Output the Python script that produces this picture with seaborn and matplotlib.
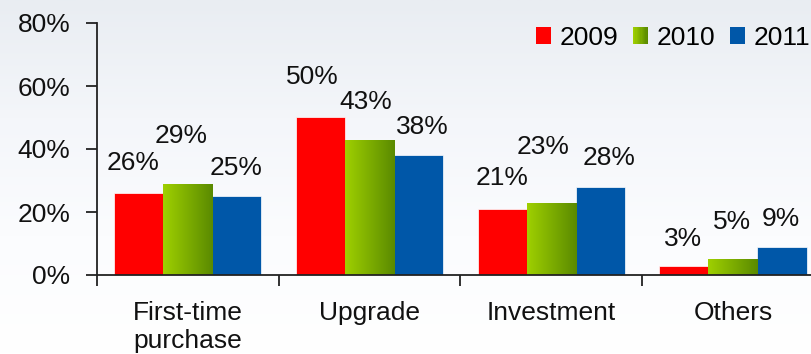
import numpy as np
import pandas as pd
import matplotlib
matplotlib.use("Agg")
import matplotlib.pyplot as plt
import seaborn as sns
from matplotlib.patches import Rectangle
from matplotlib.legend_handler import HandlerBase
from matplotlib.colors import LinearSegmentedColormap

# ---- data ----
categories = ["First-time\npurchase", "Upgrade", "Investment", "Others"]
years = ["2009", "2010", "2011"]
values_2009 = [26, 50, 21, 3]
values_2010 = [29, 43, 23, 5]
values_2011 = [25, 38, 28, 9]
y_ticks = [0, 20, 40, 60, 80]

# ---- styles ----
colors = {"2009": "#ff0000", "2010": "#80b000", "2011": "#0057a8"}
green_left, green_right = "#9fd000", "#5a8a00"
FS = 19
# label offsets (pixels) relative to bar top centre: (dx, dy) per year, per category
label_dx = {"2009": [-6, -8, 0, -1], "2010": [-7, -4, -8, -1], "2011": [-1, 4, 9, -1]}
label_dy = {"2009": [30, 40, 31, 27], "2010": [48, 38, 56, 37], "2011": [28, 28, 29, 28]}

plt.rcParams["font.family"] = ["Liberation Sans", "DejaVu Sans"]

rows = []
for y, vals in zip(years, [values_2009, values_2010, values_2011]):
    for c, v in zip(categories, vals):
        rows.append({"category": c, "year": y, "value": v})
df = pd.DataFrame(rows)

W, H = 812, 354
fig = plt.figure(figsize=(W / 100, H / 100), dpi=100)

# background gradient
bg = fig.add_axes([0, 0, 1, 1], zorder=-10)
grad = np.linspace(0, 1, 256).reshape(-1, 1)
bg_cmap = LinearSegmentedColormap.from_list("bg", ["#e9edf2", "#f4f6fa", "#fbfcfe", "#ffffff"])
bg.imshow(grad, aspect="auto", cmap=bg_cmap, extent=[0, 1, 0, 1], origin="upper")
bg.set_axis_off()

ax_left, ax_bottom, ax_top = 97, 79, 331
ax = fig.add_axes([ax_left / W, ax_bottom / H, (W - ax_left) / W, (ax_top - ax_bottom) / H])
ax.patch.set_alpha(0)

sns.barplot(data=df, x="category", y="value", hue="year", order=categories,
            hue_order=years, palette=colors, saturation=1, width=0.81, ax=ax,
            edgecolor="white", linewidth=0.5, legend=False)

cat_px = 181.7

# gradient fill for 2010 bars
gcmap = LinearSegmentedColormap.from_list("g", [green_left, green_right])
hgrad = np.linspace(0, 1, 256).reshape(1, -1)
for container, y in zip(ax.containers, years):
    for i, bar in enumerate(container):
        x0 = bar.get_x(); w = bar.get_width(); h = bar.get_height()
        if y == "2010":
            im = ax.imshow(hgrad, cmap=gcmap, aspect="auto",
                           extent=[x0, x0 + w, 0, h], zorder=bar.get_zorder() + 0.1)
            im.set_clip_path(bar)
        ax.annotate(f"{int(round(h))}%", xy=(x0 + w / 2, h),
                    xytext=(label_dx[y][i], label_dy[y][i]), textcoords="offset pixels",
                    ha="center", va="center", fontsize=FS, color="#111111",
                    annotation_clip=False)

# axes styling
for s in ["top", "right"]:
    ax.spines[s].set_visible(False)
for s in ["left", "bottom"]:
    ax.spines[s].set_linewidth(1.3)
    ax.spines[s].set_color("#222222")

ax.set_yticks(y_ticks)
ax.set_yticklabels([f"{t}%" for t in y_ticks], fontsize=FS, color="#111111")
ax.tick_params(axis="y", length=8, width=1.3, pad=11, color="#222222")

ax.set_xticks([-0.5, 0.5, 1.5, 2.5])
ax.set_xticklabels([])
ax.tick_params(axis="x", which="major", length=8, width=1.3, color="#222222")
ax.set_xticks(range(len(categories)), minor=True)
ax.set_xticklabels(categories, minor=True, fontsize=FS, color="#111111", linespacing=1.18)
ax.tick_params(axis="x", which="minor", length=0, pad=19)
ax.set_xlabel("")
ax.set_ylabel("")

ax.set_xlim(-0.5, -0.5 + (W - ax_left) / cat_px)
ax.set_ylim(0, 80)


class GradHandler(HandlerBase):
    def create_artists(self, legend, orig_handle, xdescent, ydescent, width, height, fontsize, trans):
        n = 12
        arts = []
        cm = LinearSegmentedColormap.from_list("g", [green_left, green_right])
        for k in range(n):
            r = Rectangle((-xdescent + k * width / n, -ydescent), width / n + 0.3, height,
                          facecolor=cm(k / (n - 1)), edgecolor="none", transform=trans)
            arts.append(r)
        return arts


handles = [Rectangle((0, 0), 1, 1, facecolor=colors[y], edgecolor="none") for y in years]
hmap = {handles[1]: GradHandler()}
leg = fig.legend(handles, years, loc="center right", bbox_to_anchor=(810 / W, 1 - 38 / H),
                 ncol=3, frameon=False, fontsize=FS, handlelength=0.58, handleheight=0.58,
                 handletextpad=0.32, columnspacing=0.55, handler_map=hmap, borderaxespad=0,
                 borderpad=0)

fig.savefig("out.png", dpi=100)
